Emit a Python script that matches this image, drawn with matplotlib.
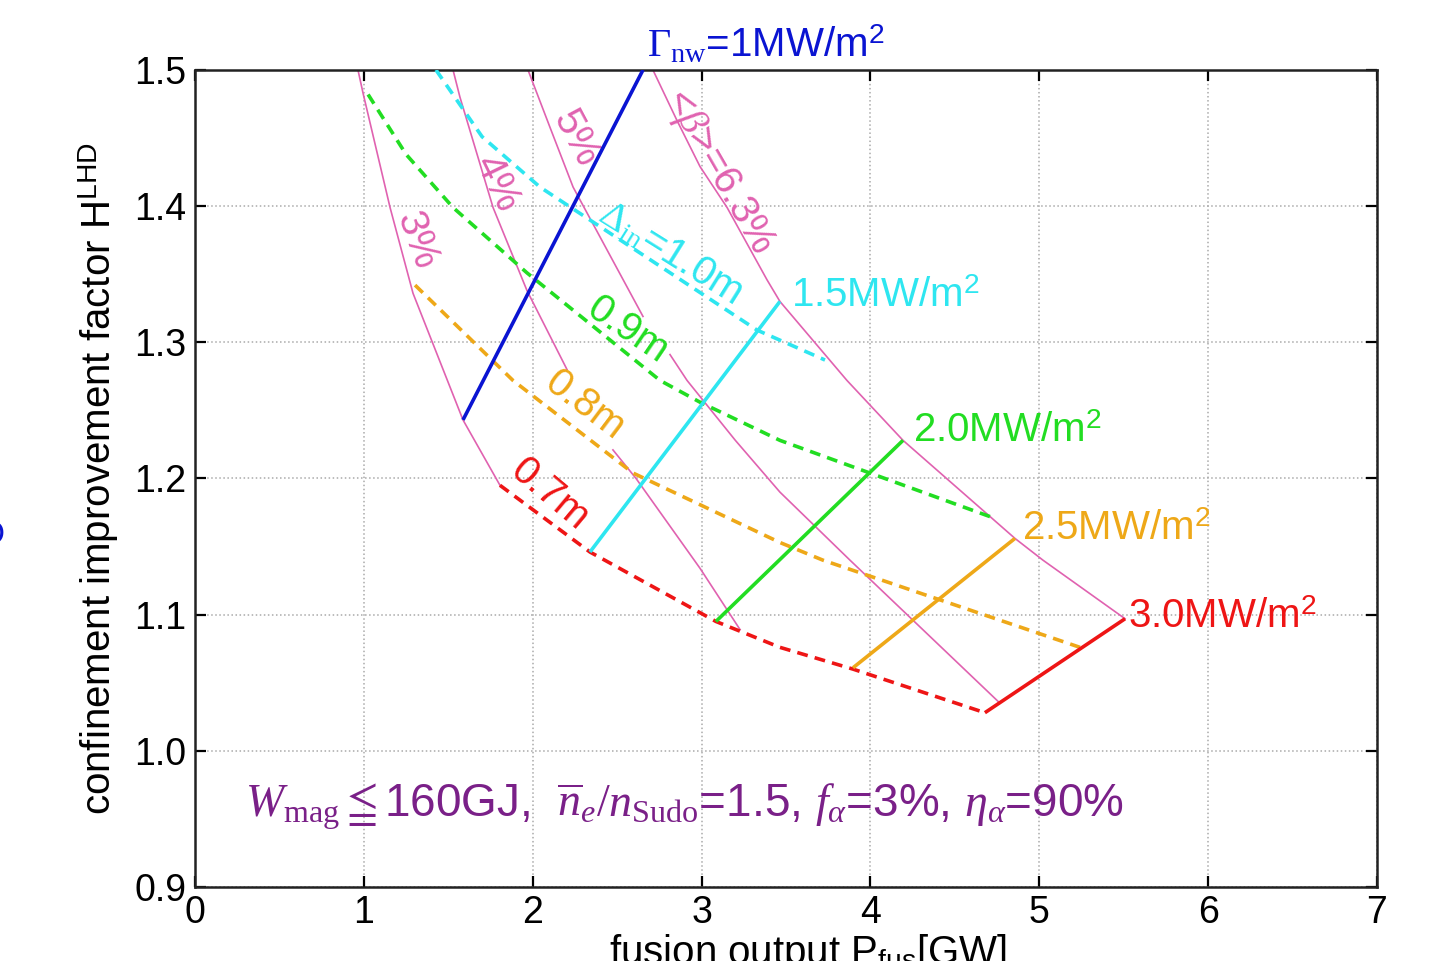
import matplotlib
matplotlib.use('Agg')
import matplotlib.pyplot as plt
from matplotlib.ticker import FormatStrFormatter, MultipleLocator

plt.rcParams['font.family'] = ['Liberation Sans', 'DejaVu Sans']
plt.rcParams['mathtext.fontset'] = 'custom'
plt.rcParams['mathtext.rm'] = 'Liberation Serif'
plt.rcParams['mathtext.it'] = 'Liberation Serif:italic'
plt.rcParams['mathtext.sf'] = 'Liberation Sans'
plt.rcParams['mathtext.bf'] = 'Liberation Serif:bold'
plt.rcParams['mathtext.fallback'] = 'stix'

# <beta> curves (pink) - split where the labels sit in the original
beta3_P = [[0.965, 0.995, 1.155, 1.291, 1.587, 1.806]]
beta3_H = [[1.500, 1.483, 1.399, 1.336, 1.243, 1.195]]
beta4_P = [[1.528, 1.569, 1.765, 1.966, 2.203], [2.475, 2.612, 2.991, 3.228]]
beta4_H = [[1.500, 1.480, 1.399, 1.338, 1.280], [1.221, 1.200, 1.134, 1.089]]
beta5_P = [[1.972, 2.108, 2.239, 2.653], [2.813, 2.914, 3.200, 3.464, 3.879, 4.767]]
beta5_H = [[1.500, 1.456, 1.414, 1.319], [1.291, 1.272, 1.228, 1.190, 1.140, 1.035]]
beta63_P = [[2.712, 2.854, 2.991, 3.151, 3.387, 3.464, 3.861, 4.193, 4.856, 5.022, 5.508]]
beta63_H = [[1.500, 1.463, 1.429, 1.399, 1.346, 1.330, 1.272, 1.228, 1.156, 1.140, 1.097]]

# inboard gap Delta_in curves (dashed)
d07_P = [1.806, 2.339, 3.085, 3.464, 3.897, 4.678]
d07_H = [1.195, 1.146, 1.095, 1.076, 1.060, 1.028]
d08_P = [1.303, 1.883, 2.594, 3.464, 3.719, 5.241]
d08_H = [1.342, 1.272, 1.204, 1.153, 1.140, 1.076]
d09_P = [1.025, 1.250, 1.528, 1.966, 2.754, 2.991, 3.464, 4.708]
d09_H = [1.482, 1.438, 1.399, 1.351, 1.272, 1.256, 1.228, 1.172]
d10_P = [1.427, 1.700, 2.043, 3.328, 3.731]
d10_H = [1.500, 1.451, 1.414, 1.309, 1.287]

# neutron wall load lines (solid)
nw_labels = ['1', '1.5', '2.0', '2.5', '3.0']
nw_P = [[1.587, 2.653], [2.339, 3.464], [3.085, 4.193], [3.897, 4.856], [4.678, 5.508]]
nw_H = [[1.243, 1.500], [1.146, 1.330], [1.095, 1.228], [1.061, 1.156], [1.028, 1.097]]

pink = '#e062b0'
c_blue = '#0a14d2'
c_cyan = '#2ee6f0'
c_green = '#22dd22'
c_orange = '#eea818'
c_red = '#ee1515'
purple = '#7a2088'

fig = plt.figure(figsize=(14.33, 9.61), dpi=100)
ax = fig.add_axes([0.1361, 0.0770, 0.8248, 0.8502])

for P, H in [(beta3_P, beta3_H), (beta4_P, beta4_H), (beta5_P, beta5_H), (beta63_P, beta63_H)]:
    for p, h in zip(P, H):
        ax.plot(p, h, color=pink, lw=1.2, zorder=2)

for p, h, c in [(d07_P, d07_H, c_red), (d08_P, d08_H, c_orange),
                (d09_P, d09_H, c_green), (d10_P, d10_H, c_cyan)]:
    ax.plot(p, h, color=c, lw=2.6, dashes=(3, 2), zorder=3)

nw_colors = [c_blue, c_cyan, c_green, c_orange, c_red]
for p, h, c in zip(nw_P, nw_H, nw_colors):
    ax.plot(p, h, color=c, lw=2.6, zorder=4, solid_capstyle='butt')

ax.set_xlim(0, 7)
ax.set_ylim(0.9, 1.5)
ax.xaxis.set_major_locator(MultipleLocator(1))
ax.yaxis.set_major_locator(MultipleLocator(0.1))
ax.yaxis.set_major_formatter(FormatStrFormatter('%.1f'))
ax.grid(True, linestyle=':', color='#aaaaaa', lw=1.1)
ax.tick_params(direction='in', top=True, right=True, length=8, width=1.6,
               labelsize=27, pad=6)
for s in ax.spines.values():
    s.set_linewidth(1.8)
    s.set_color('#222222')

ax.set_ylabel(r'confinement improvement factor H$^{\mathsf{LHD}}$', fontsize=29, labelpad=10)
ax.set_xlabel(r'fusion output P$_{\mathsf{fus}}$[GW]', fontsize=29, labelpad=2)
ax.xaxis.set_label_coords(0.519, -0.055)

# curve labels
fs = 29
ax.text(1.315, 1.375, '3%', color=pink, fontsize=fs, rotation=-70, ha='center', va='center')
ax.text(1.788, 1.417, '4%', color=pink, fontsize=fs, rotation=-64, ha='center', va='center')
ax.text(2.256, 1.450, '5%', color=pink, fontsize=fs, rotation=-62, ha='center', va='center')
ax.text(3.097, 1.425, r'<$\beta$>=6.3%', color=pink, fontsize=fs, rotation=-60,
        ha='center', va='center')
ax.text(2.813, 1.366, r'$\Delta_{\rm in}$=1.0m', color=c_cyan, fontsize=fs, rotation=-32,
        ha='center', va='center')
ax.text(2.564, 1.309, '0.9m', color=c_green, fontsize=fs, rotation=-34, ha='center', va='center')
ax.text(2.310, 1.254, '0.8m', color=c_orange, fontsize=fs, rotation=-37, ha='center', va='center')
ax.text(2.102, 1.188, '0.7m', color=c_red, fontsize=fs, rotation=-40, ha='center', va='center')

ax.text(2.677, 1.5095, r'$\Gamma_{\rm nw}$=1MW/m$^{\mathsf{2}}$', color=c_blue, fontsize=fs,
        ha='left', va='baseline', clip_on=False)
ax.text(3.530, 1.326, r'1.5MW/m$^{\mathsf{2}}$', color=c_cyan, fontsize=fs, ha='left', va='baseline')
ax.text(4.252, 1.2268, r'2.0MW/m$^{\mathsf{2}}$', color=c_green, fontsize=fs, ha='left', va='baseline')
ax.text(4.898, 1.1548, r'2.5MW/m$^{\mathsf{2}}$', color=c_orange, fontsize=fs, ha='left', va='baseline')
ax.text(5.525, 1.0902, r'3.0MW/m$^{\mathsf{2}}$', color=c_red, fontsize=fs, ha='left', va='baseline')

ax.text(0.296, 0.9514,
        r'$W_{\rm mag}\leqq$160GJ,  $\overline{n}_e/n_{\rm Sudo}$=1.5, $f_\alpha$=3%, $\eta_\alpha$=90%',
        color=purple, fontsize=33, ha='left', va='baseline')

# leftover glyph cut by the left edge of the original figure
fig.text(-0.006, 1 - 535 / 961, 'O', color=c_blue, fontsize=24, ha='center', va='center')

fig.savefig('out.png', dpi=100)
